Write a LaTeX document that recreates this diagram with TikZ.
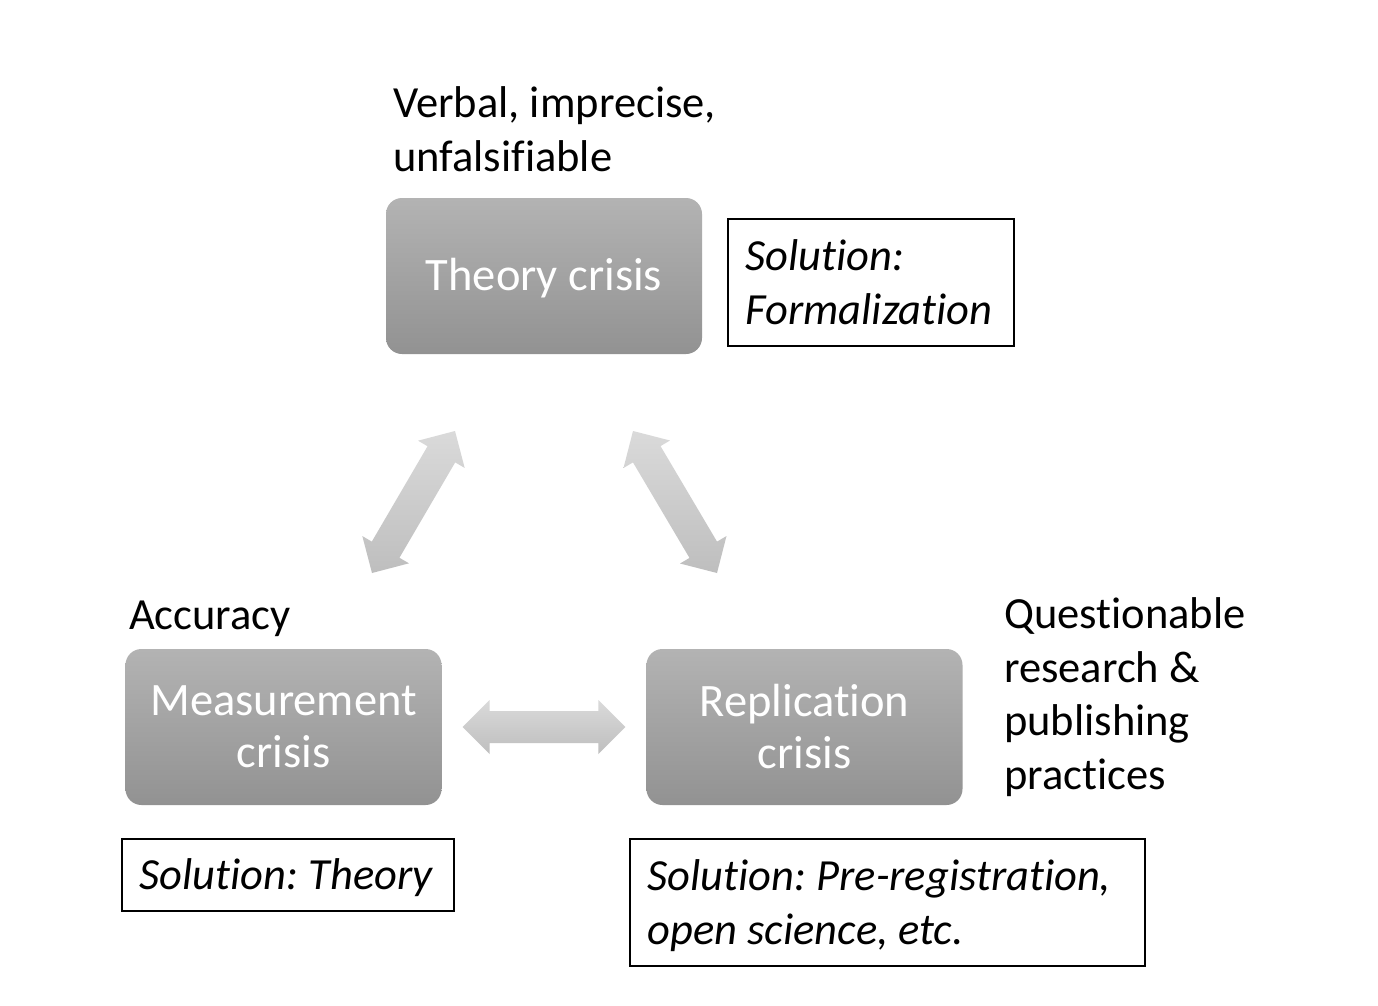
\documentclass[tikz,border=0pt]{standalone}
\usepackage{fontspec}
\setmainfont{Carlito}[Ligatures=NoCommon]
\usetikzlibrary{calc}
\definecolor{boxtop}{HTML}{B3B3B3}
\definecolor{boxbot}{HTML}{929292}
\definecolor{arrtop}{HTML}{DADADA}
\definecolor{arrbot}{HTML}{BEBEBE}
\newcommand\blockarrow[2]{%
  \shade[arrowfill] (#1)
    -- ($(#1)!27pt!(#2)!27pt!90:(#2)$)
    -- ($(#1)!27pt!(#2)!16pt!90:(#2)$)
    -- ($(#2)!27pt!(#1)!16pt!-90:(#1)$)
    -- ($(#2)!27pt!(#1)!27pt!-90:(#1)$)
    -- (#2)
    -- ($(#2)!27pt!(#1)!27pt!90:(#1)$)
    -- ($(#2)!27pt!(#1)!16pt!90:(#1)$)
    -- ($(#1)!27pt!(#2)!16pt!-90:(#2)$)
    -- ($(#1)!27pt!(#2)!27pt!-90:(#2)$)
    -- cycle;}
\begin{document}
\frenchspacing
\begin{tikzpicture}[x=1pt,y=-1pt,
  crisis/.style={rounded corners=16pt, top color=boxtop, bottom color=boxbot,
    text=white, font=\fontsize{46.5}{52}\selectfont\frenchspacing, align=center,
    minimum width=316pt, minimum height=156pt, inner sep=0pt},
  solbox/.style={draw=black, line width=1.5pt, font=\fontsize{44.5}{54}\itshape\selectfont\frenchspacing,
    align=flush left, anchor=north west, inner ysep=0pt, inner xsep=18pt},
  lbl/.style={font=\fontsize{44.5}{53.5}\selectfont\frenchspacing, align=flush left, inner sep=0pt, anchor=base west},
  arrowfill/.style={top color=arrtop, bottom color=arrbot, draw=none}]
\useasboundingbox[fill=white] (0,0) rectangle (1378,1006);

\node[crisis, text height=92pt, text depth=64pt] (theory) at (544,276) {Theory crisis};
\node[crisis] (meas) at (283.5,727) {Measurement\\crisis};
\node[crisis] (repl) at (804.5,727) {Replication\\crisis};

\node[lbl] (verbal) at (393,171) {Verbal, imprecise,\\unfalsifiable};
\node[lbl] (accuracy) at (129,629) {Accuracy};
\node[lbl] (qrp) at (1004,789) {Questionable\\research \&\\publishing\\practices};

\node[solbox, minimum width=286pt, minimum height=127pt, text width=250pt] (solf) at (727,218) {Solution:\\Formalization};
\node[solbox, minimum width=332pt, minimum height=72pt, text width=296pt, text height=51pt, text depth=21pt] (solt) at (121,838) {Solution: Theory};
\node[solbox, minimum width=515pt, minimum height=127pt, text width=479pt, text height=52pt, text depth=75pt] (solp) at (629,838) {Solution: Pre-registration,\\open science, etc.};

\coordinate (tl1) at (372,573);
\coordinate (tl2) at (455,431);
\coordinate (tr1) at (633,431);
\coordinate (tr2) at (717,573);
\coordinate (h1) at ($(meas.east)+(21,0)$);
\coordinate (h2) at ($(repl.west)+(-21,0)$);
\blockarrow{tl1}{tl2}
\blockarrow{tr1}{tr2}
\blockarrow{h1}{h2}
\end{tikzpicture}
\end{document}
